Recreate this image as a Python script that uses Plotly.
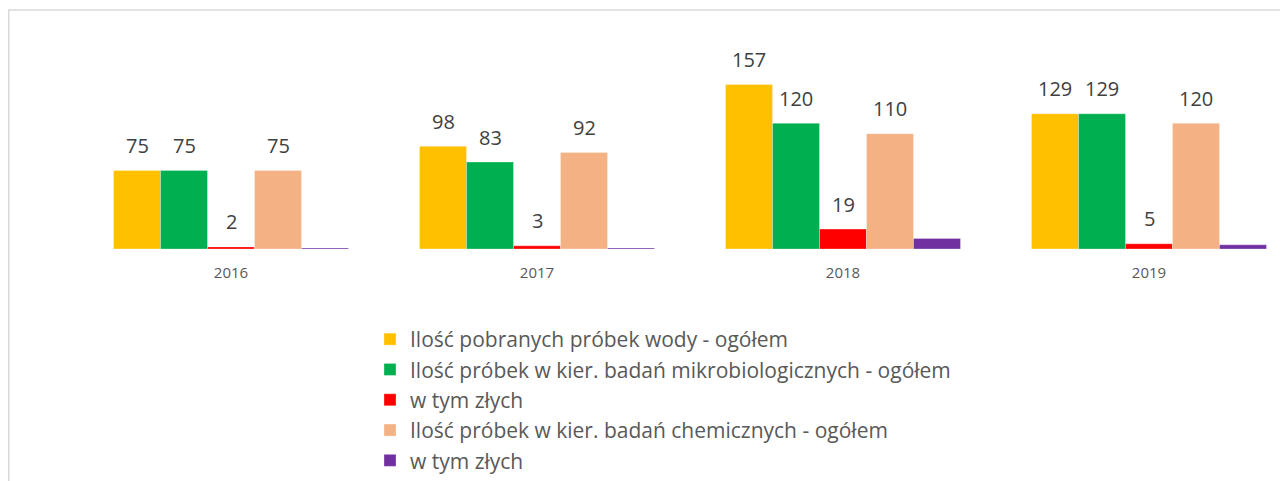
import plotly.graph_objects as go

years = ["2016", "2017", "2018", "2019"]
series_names = [
    "Ilość pobranych próbek wody - ogółem",
    "Ilość próbek w kier. badań mikrobiologicznych - ogółem",
    "w tym złych",
    "Ilość próbek w kier. badań chemicznych - ogółem",
    "w tym złych",
]
pobrane = [75, 98, 157, 129]
mikro = [75, 83, 120, 129]
mikro_zle = [2, 3, 19, 5]
chem = [75, 92, 110, 120]
chem_zle = [1, 1, 10, 4]
show_labels = [True, True, True, True, False]
colors = ["#FFC000", "#00B050", "#FF0000", "#F4B183", "#7030A0"]

all_values = [pobrane, mikro, mikro_zle, chem, chem_zle]

# page body has an 8px margin; figure coordinates are offset accordingly
W, H = 1288, 481
ml, mr, mt, mb = 70, 0, 22, 240
cat_px = 306
bargap = 0.232
n = len(all_values)
bw = (1 - bargap) / n

fig = go.Figure()
for name, vals, col in zip(series_names, all_values, colors):
    fig.add_trace(go.Bar(
        x=years, y=vals, name=name,
        marker=dict(color=col, line=dict(color="rgba(255,255,255,0.6)", width=0.5)),
    ))

annotations = []
for i, (vals, show) in enumerate(zip(all_values, show_labels)):
    if not show:
        continue
    for j, v in enumerate(vals):
        annotations.append(dict(
            x=j + (i - (n - 1) / 2) * bw, y=v, xref="x", yref="y",
            text=str(v), showarrow=False, yanchor="middle", yshift=25,
            font=dict(family="Open Sans", size=20, color="#404040"),
        ))

plot_w = W - ml - mr
plot_h = H - mt - mb
px_per_unit = 1.048
ymax = plot_h / px_per_unit

# frame (light gray border) at figure x≈0.5, y≈2
shapes = [dict(
    type="rect", xref="paper", yref="paper",
    x0=(0.75 - ml) / plot_w, x1=1.2,
    y0=-1.5, y1=(H - mb - 2) / plot_h,
    line=dict(color="#D9D9D9", width=1.5), fillcolor="rgba(0,0,0,0)", layer="below",
)]

fig.update_layout(
    width=W, height=H,
    margin=dict(l=ml, r=mr, t=mt, b=mb, autoexpand=False),
    paper_bgcolor="white", plot_bgcolor="white",
    barmode="group", bargap=bargap, bargroupgap=0,
    xaxis=dict(
        type="category", range=[-0.5, -0.5 + plot_w / cat_px],
        showgrid=False, showline=False, zeroline=False, ticks="",
        tickfont=dict(family="Open Sans", size=15, color="#595959"),
        ticklabelstandoff=13,
    ),
    yaxis=dict(range=[0, ymax], visible=False, showgrid=False, zeroline=False),
    legend=dict(
        xref="container", yref="container",
        x=362 / W, y=1 - 311 / H, xanchor="left", yanchor="top",
        font=dict(family="Open Sans", size=21, color="#595959"),
        traceorder="normal", bgcolor="rgba(0,0,0,0)",
    ),
    annotations=annotations,
    shapes=shapes,
    showlegend=True,
)

fig.write_html("out.html")
